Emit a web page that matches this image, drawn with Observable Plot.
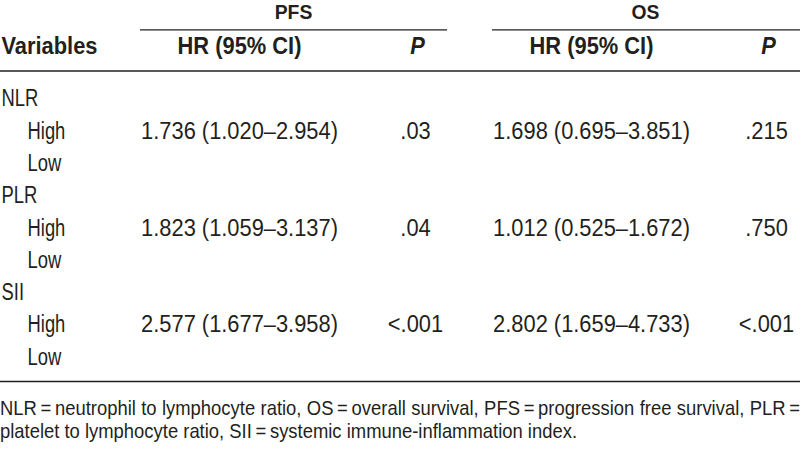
<!DOCTYPE html>
<html>
<head>
<meta charset="utf-8">
<script src="https://cdn.jsdelivr.net/npm/d3@7"></script>
<script src="https://cdn.jsdelivr.net/npm/@observablehq/plot@0.6"></script>
<style>
  html, body { margin: 0; padding: 0; background: #fff; overflow: hidden; }
  #wrap { width: 800px; position: relative; }
  #wrap svg { display: block; }
  .cap { font-family: "Liberation Sans", Arial, sans-serif; font-size: 21px; color: #231f20;
         line-height: 23px; transform-origin: 0 0; }
  .cap.j { text-align: justify; text-align-last: justify; }
  .cap.n { white-space: nowrap; }
</style>
</head>
<body>
<div id="wrap"></div>
<script>
// ---- data ----
const groupHeaders = ["PFS", "OS"];
const colHeaders = ["Variables", "HR (95% CI)", "P", "HR (95% CI)", "P"];
const groups = ["NLR", "PLR", "SII"];
const levels = ["High", "Low"];
const pfsHR = ["1.736 (1.020–2.954)", "1.823 (1.059–3.137)", "2.577 (1.677–3.958)"];
const pfsP = [".03", ".04", "<.001"];
const osHR = ["1.698 (0.695–3.851)", "1.012 (0.525–1.672)", "2.802 (1.659–4.733)"];
const osP = [".215", ".750", "<.001"];
const captionLines = [
  "NLR\u2009=\u2009neutrophil to lymphocyte ratio, OS\u2009=\u2009overall survival, PFS\u2009=\u2009progression free survival, PLR\u2009=",
  "platelet to lymphocyte ratio, SII\u2009=\u2009systemic immune-inflammation index."
];

// ---- layout (pixels) ----
const W = 800, H = 396;
const firstBaseline = 105.8, rowStep = 32.3;
const toRow = px => (px - firstBaseline) / rowStep;
const colX = {var: 1, level: 27, pfsHR: 239, pfsP: 415, osHR: 591, osP: 766};
const groupHeaderX = {PFS: 293, OS: 645};
const groupRule = {PFS: [140, 447], OS: [492, 800]};
const groupHeaderBase = 18.5, colHeaderBase = 53.5, groupRuleY = 29.3, headRuleY = 70.5, bottomRuleY = 381;
const caption2Width = 577;
const ink = "#231f20";
const font = "'Liberation Sans', Arial, sans-serif";

// ---- build tables ----
const rows = [];
groups.forEach((g, i) => {
  rows.push({row: 3 * i, col: "var", text: g});
  levels.forEach((lv, j) => rows.push({row: 3 * i + 1 + j, col: "level", text: lv}));
  rows.push({row: 3 * i + 1, col: "pfsHR", text: pfsHR[i]});
  rows.push({row: 3 * i + 1, col: "pfsP", text: pfsP[i]});
  rows.push({row: 3 * i + 1, col: "osHR", text: osHR[i]});
  rows.push({row: 3 * i + 1, col: "osP", text: osP[i]});
});
const headCols = ["var", "pfsHR", "pfsP", "osHR", "osP"];
const heads = colHeaders.map((t, i) => ({col: headCols[i], text: t, italic: t === "P"}));
const gheads = groupHeaders.map(t => ({text: t, x: groupHeaderX[t], x1: groupRule[t][0], x2: groupRule[t][1]}));
const isLabel = d => d.col === "var" || d.col === "level";

const chart = Plot.plot({
  width: W, height: H,
  margin: 0,
  x: {type: "linear", domain: [0, W], range: [0, W], axis: null},
  y: {type: "linear", domain: [0, 8], range: [firstBaseline, firstBaseline + 8 * rowStep], axis: null},
  style: {fontFamily: font, background: "#fff", color: ink},
  marks: [
    // group headers and their rules
    Plot.text(gheads, {x: "x", y: () => toRow(groupHeaderBase), text: "text", fontSize: 21, fontWeight: "bold", fill: ink, textAnchor: "middle", lineAnchor: "bottom"}),
    Plot.ruleY(gheads, {y: () => toRow(groupRuleY), x1: "x1", x2: "x2", stroke: ink, strokeWidth: 1.3}),
    // column headers
    Plot.text(heads.filter(d => d.col === "var"), {x: d => colX[d.col], y: () => toRow(colHeaderBase), text: "text", fontSize: 23, fontWeight: "bold", fill: ink, textAnchor: "start", lineAnchor: "bottom"}),
    Plot.text(heads.filter(d => d.col !== "var" && !d.italic), {x: d => colX[d.col], y: () => toRow(colHeaderBase), text: "text", fontSize: 23, fontWeight: "bold", fill: ink, textAnchor: "middle", lineAnchor: "bottom"}),
    Plot.text(heads.filter(d => d.italic), {x: d => colX[d.col] + 2, y: () => toRow(colHeaderBase), text: "text", fontSize: 23, fontWeight: "bold", fontStyle: "italic", fill: ink, textAnchor: "middle", lineAnchor: "bottom"}),
    // horizontal rules
    Plot.ruleY([toRow(headRuleY), toRow(bottomRuleY)], {x1: 0, x2: W, stroke: ink, strokeWidth: 1.7}),
    // body
    Plot.text(rows.filter(isLabel), {x: d => colX[d.col], y: "row", text: "text", fontSize: 23, fill: ink, textAnchor: "start", lineAnchor: "bottom"}),
    Plot.text(rows.filter(d => !isLabel(d)), {x: d => colX[d.col], y: "row", text: "text", fontSize: 23, fill: ink, textAnchor: "middle", lineAnchor: "bottom"})
  ]
});
const wrap = document.getElementById("wrap");
wrap.appendChild(chart);

// condense glyphs to imitate the condensed typeface of the reference
d3.select(chart).selectAll("text").each(function() {
  const el = this;
  const txt = el.textContent;
  const w = getComputedStyle(el).fontWeight;
  const bold = w === "bold" || +w >= 600;
  const f = (!bold && /^[A-Za-z]+$/.test(txt)) ? 0.8 : (bold && /^[A-Z]{2,3}$/.test(txt) ? 0.92 : 0.95);
  const len = el.getComputedTextLength();
  el.setAttribute("textLength", (len * f).toFixed(2));
  el.setAttribute("lengthAdjust", "spacingAndGlyphs");
});

// caption (two lines; the first justified to the full width)
const probe = document.createElement("span");
probe.className = "cap n"; probe.style.position = "absolute"; probe.style.visibility = "hidden";
probe.textContent = captionLines[1];
document.body.appendChild(probe);
const k = caption2Width / probe.getBoundingClientRect().width;
probe.remove();
captionLines.forEach((line, i) => {
  const div = document.createElement("div");
  div.className = "cap " + (i === 0 ? "j" : "n");
  div.style.width = (W / k) + "px";
  div.style.transform = `scaleX(${k})`;
  div.style.height = "23px";
  div.textContent = line;
  wrap.appendChild(div);
});
</script>
</body>
</html>
